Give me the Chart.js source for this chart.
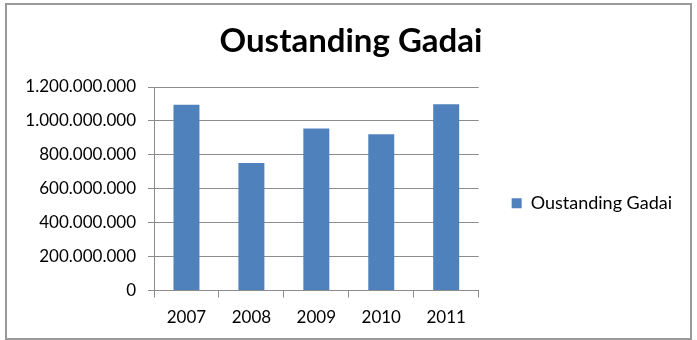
<!DOCTYPE html>
<html>
<head>
<meta charset="utf-8">
<script src="https://cdn.jsdelivr.net/npm/chart.js@4/dist/chart.umd.min.js"></script>
<style>
  html, body { margin: 0; padding: 0; background: #fff; }
  #wrap { position: relative; width: 697px; height: 340px; }
  #frame {
    position: absolute; left: 5px; top: 3px; width: 687px; height: 337px;
    box-sizing: border-box; border: 2px solid #9a9a9a; pointer-events: none;
  }
</style>
</head>
<body>
<div id="wrap">
  <canvas id="chart" width="697" height="340"></canvas>
  <div id="frame"></div>
</div>
<script>
const years = ['2007', '2008', '2009', '2010', '2011'];
const gadai = [1095000000, 752000000, 955000000, 921000000, 1099000000];
const seriesName = 'Oustanding Gadai';

// thousands separated with dots, as in the original sheet
const fmt = v => String(v).replace(/\B(?=(\d{3})+(?!\d))/g, '.');

const axisGray = '#8c8c8c';
const font = 'Lato';

new Chart(document.getElementById('chart'), {
  type: 'bar',
  data: {
    labels: years,
    datasets: [{
      label: seriesName,
      data: gadai,
      backgroundColor: '#4f81bd',
      borderWidth: 0,
      barPercentage: 0.4,
      categoryPercentage: 1
    }]
  },
  options: {
    responsive: false,
    animation: false,
    layout: { padding: { left: 20, right: 15, top: 0, bottom: 2 } },
    plugins: {
      title: {
        display: true,
        text: seriesName,
        color: '#000',
        font: { family: font, size: 33, weight: 'bold' },
        padding: { top: 22, bottom: 25.4 }
      },
      legend: {
        position: 'right',
        fullSize: false,
        maxWidth: 219,
        // empty title only pushes the entry down to the middle below the chart title
        title: { display: true, text: '', font: { size: 9, lineHeight: 1 }, padding: 10 },
        labels: {
          boxWidth: 10,
          boxHeight: 10,
          padding: 33,
          color: '#000',
          font: { family: font, size: 18 }
        }
      },
      tooltip: { enabled: false }
    },
    scales: {
      x: {
        grid: { drawOnChartArea: false, color: axisGray, tickLength: 7, offset: true },
        border: { color: axisGray },
        ticks: { color: '#000', padding: 10, font: { family: font, size: 17 } }
      },
      y: {
        min: 0,
        max: 1200000000,
        afterFit: s => { s.width = 134; },
        grid: { color: axisGray, tickLength: 6 },
        border: { color: axisGray },
        ticks: {
          stepSize: 200000000,
          color: '#000',
          padding: 12,
          font: { family: font, size: 17 },
          callback: v => fmt(v)
        }
      }
    }
  }
});
</script>
</body>
</html>
